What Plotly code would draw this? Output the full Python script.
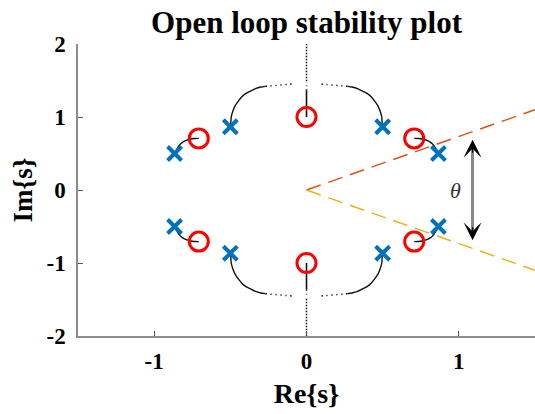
import plotly.graph_objects as go

# Open-loop poles and zeros in the s-plane
pole_re = [0.866, 0.5, -0.5, -0.866, -0.866, -0.5, 0.5, 0.866]
pole_im = [0.5, 0.866, 0.866, 0.5, -0.5, -0.866, -0.866, -0.5]
zero_re = [0.707, 0.0, -0.707, -0.707, 0.0, 0.707]
zero_im = [0.707, 1.0, 0.707, -0.707, -1.0, -0.707]

# Root-locus branches traced in the first quadrant (mirrored to the others)
short_re = [0.707, 0.735, 0.765, 0.790, 0.810, 0.830, 0.848, 0.866]
short_im = [0.707, 0.705, 0.695, 0.680, 0.660, 0.625, 0.570, 0.500]
long_re = [0.498, 0.494, 0.482, 0.466, 0.445, 0.426, 0.400, 0.367, 0.335, 0.300, 0.270]
long_im = [0.866, 1.000, 1.090, 1.164, 1.225, 1.274, 1.320, 1.356, 1.390, 1.411, 1.420]
long_tail_re = [0.270, 0.236, 0.200, 0.170, 0.135, 0.098]
long_tail_im = [1.420, 1.427, 1.433, 1.438, 1.445, 1.452]
axis_re = [0.0, 0.0]
axis_solid_im = [1.0, 1.36]
axis_sparse_im = [1.36, 1.43]
axis_far_im = [1.49, 2.0]

# Damping-angle guide lines
guide_re = [0.0, 1.5]
guide_upper_im = [0.0, 1.1]
guide_lower_im = [0.0, -1.1]

# Angle marker
arrow_re = 1.09
arrow_top = 0.69
arrow_bottom = -0.71
theta_label = "θ"

BLUE = "#0072BD"
RED = "#FF0000"
ORANGE = "#D95319"
YELLOW = "#EDB120"
SERIF = "Liberation Serif"

fig = go.Figure()


def add_line(xs, ys, dash="solid", width=1.4, color="#111111"):
    fig.add_trace(go.Scatter(x=xs, y=ys, mode="lines",
                             line=dict(color=color, width=width, dash=dash,
                                       shape="spline", smoothing=0.6),
                             hoverinfo="skip"))


quadrants = [(1, 1), (-1, 1), (1, -1), (-1, -1)]
for sx, sy in quadrants:
    add_line([sx * v for v in short_re], [sy * v for v in short_im])
    add_line([sx * v for v in long_re], [sy * v for v in long_im])
    add_line([sx * v for v in long_tail_re], [sy * v for v in long_tail_im],
             dash="1.5px,3.5px", width=1.5)

for sy in (1, -1):
    add_line(axis_re, [sy * v for v in axis_solid_im], width=1.6)
    add_line(axis_re, [sy * v for v in axis_sparse_im], dash="1.5px,3px", width=1.5)
    add_line(axis_re, [sy * v for v in axis_far_im], dash="1.5px,1.5px", width=1.5)

add_line(guide_re, guide_upper_im, dash="15px,8px", width=1.5, color=ORANGE)
add_line(guide_re, guide_lower_im, dash="15px,8px", width=1.5, color=YELLOW)

fig.add_trace(go.Scatter(x=zero_re, y=zero_im, mode="markers",
                         marker=dict(symbol="circle-open", size=19, color=RED,
                                     line=dict(width=3, color=RED)),
                         hoverinfo="skip"))
fig.add_trace(go.Scatter(x=pole_re, y=pole_im, mode="markers",
                         marker=dict(symbol="x-thin", size=14, color=BLUE,
                                     line=dict(width=4, color=BLUE)),
                         hoverinfo="skip"))

# Double-headed arrow: black barbed heads, grey shaft laid over the middle
fig.add_annotation(x=arrow_re, y=arrow_top, ax=arrow_re, ay=arrow_bottom,
                   xref="x", yref="y", axref="x", ayref="y", text="",
                   showarrow=True, arrowside="end+start",
                   arrowhead=3, startarrowhead=3,
                   arrowsize=1.5, startarrowsize=1.5,
                   arrowwidth=2, arrowcolor="black")
fig.add_annotation(x=arrow_re, y=arrow_top - 0.18, ax=arrow_re, ay=arrow_bottom + 0.18,
                   xref="x", yref="y", axref="x", ayref="y", text="",
                   showarrow=True, arrowhead=0, arrowwidth=2.5,
                   arrowcolor="#8a8a8a")
fig.add_annotation(x=0.98, y=0.0, xref="x", yref="y", text=theta_label,
                   showarrow=False,
                   font=dict(family=SERIF, size=22, color="#333333", style="italic"))

axis_common = dict(showline=True, linecolor="#8c8c8c", linewidth=1.5,
                   ticks="inside", ticklen=5, tickcolor="#555555", tickwidth=1,
                   showgrid=False, zeroline=False, mirror=False,
                   tickfont=dict(family=SERIF, size=23, color="black", weight="bold"))

fig.update_xaxes(range=[-1.5, 1.5], tickvals=[-1, 0, 1], ticktext=["-1", "0", "1"],
                 ticklabelstandoff=4,
                 title=dict(text="Re{s}", standoff=10,
                            font=dict(family=SERIF, size=28, color="black", weight="bold")),
                 **axis_common)
fig.update_yaxes(range=[-2, 2], tickvals=[-2, -1, 0, 1, 2],
                 ticktext=["-2", "-1", "0", "1", "2"],
                 ticklabelstandoff=6,
                 title=dict(text="Im{s}", standoff=6,
                            font=dict(family=SERIF, size=27, color="black", weight="bold")),
                 **axis_common)

fig.update_layout(
    width=535, height=414,
    margin=dict(l=78, r=0, t=44, b=78),
    plot_bgcolor="white", paper_bgcolor="white",
    showlegend=False,
    title=dict(text="Open loop stability plot", x=0.5, xref="paper",
               y=1 - 22 / 414, yref="container", yanchor="middle", xanchor="center",
               font=dict(family=SERIF, size=31, color="black", weight="bold")),
)

fig.write_html("out.html")
